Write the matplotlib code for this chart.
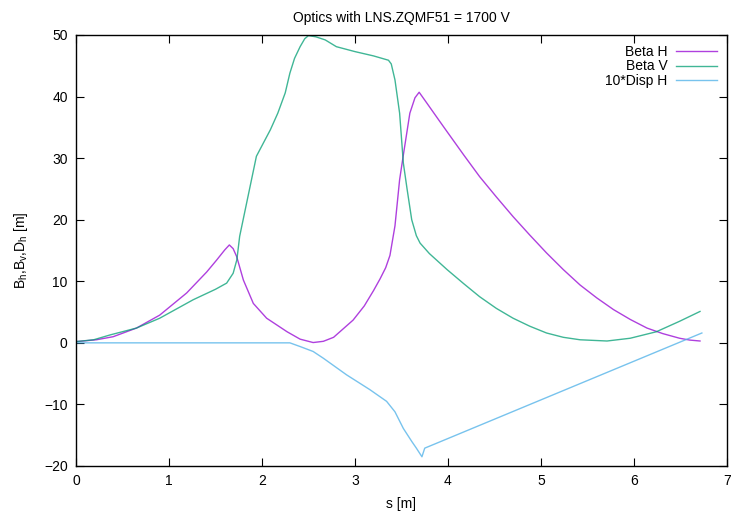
import numpy as np
import matplotlib
matplotlib.use('Agg')
import matplotlib.pyplot as plt

plt.rcParams['font.family'] = ['Liberation Sans', 'DejaVu Sans']

# Beta H  (s [m], value [m])
s_bh = [0.0, 0.22, 0.40, 0.65, 0.90, 1.19, 1.405, 1.51, 1.60, 1.649, 1.69,
        1.728, 1.80, 1.907, 2.05, 2.27, 2.41, 2.55, 2.66, 2.77, 2.98, 3.10,
        3.20, 3.27, 3.33, 3.376, 3.43, 3.48, 3.52, 3.59, 3.645, 3.69, 3.77,
        3.91, 3.99, 4.17, 4.34, 4.52, 4.70, 4.88, 5.06, 5.24, 5.42, 5.60,
        5.78, 5.96, 6.14, 6.31, 6.49, 6.60, 6.71]
beta_h = [0.2, 0.5, 1.0, 2.4, 4.5, 8.1, 11.5, 13.4, 15.1, 15.9, 15.3,
          14.0, 10.2, 6.4, 4.0, 1.8, 0.6, 0.05, 0.25, 0.9, 3.7, 6.0,
          8.5, 10.4, 12.2, 14.2, 19.0, 26.5, 30.5, 37.3, 39.8, 40.7, 39.0,
          36.0, 34.3, 30.5, 27.0, 23.7, 20.5, 17.5, 14.6, 11.9, 9.4, 7.3,
          5.4, 3.8, 2.4, 1.5, 0.75, 0.45, 0.3]

# Beta V
s_bv = [0.0, 0.19, 0.37, 0.65, 0.90, 1.26, 1.50, 1.62, 1.69, 1.73, 1.76,
        1.85, 1.94, 2.02, 2.09, 2.17, 2.25, 2.30, 2.35, 2.41, 2.46, 2.50,
        2.58, 2.68, 2.80, 3.00, 3.20, 3.36, 3.39, 3.43, 3.48, 3.52, 3.56,
        3.61, 3.66, 3.70, 3.80, 3.99, 4.17, 4.34, 4.52, 4.70, 4.88, 5.06,
        5.24, 5.42, 5.71, 5.96, 6.24, 6.49, 6.71]
beta_v = [0.2, 0.5, 1.3, 2.4, 4.0, 7.0, 8.7, 9.7, 11.3, 13.5, 17.3,
          23.8, 30.3, 32.6, 34.6, 37.3, 40.6, 43.8, 46.2, 48.1, 49.4, 49.9,
          49.7, 49.2, 48.1, 47.3, 46.6, 45.9, 45.3, 42.7, 37.3, 29.2, 25.0,
          20.0, 17.4, 16.2, 14.5, 11.9, 9.6, 7.5, 5.6, 4.0, 2.7, 1.6,
          0.9, 0.5, 0.3, 0.75, 1.8, 3.5, 5.1]

# 10*Disp H
s_dh = [0.0, 2.19, 2.30, 2.41, 2.55, 2.66, 2.91, 3.16, 3.34, 3.43, 3.52,
        3.61, 3.66, 3.72, 3.75, 3.91, 6.73]
disp_h = [0.0, 0.0, 0.0, -0.6, -1.4, -2.5, -5.2, -7.6, -9.5, -11.2, -13.9,
          -16.0, -17.1, -18.5, -17.1, -16.1, 1.6]

fig = plt.figure(figsize=(7.37, 5.16), dpi=100)
ax = fig.add_axes([0.1031, 0.0969, 0.8833, 0.8353])

ax.plot(s_bh, beta_h, color='#9400d3', lw=1.0, alpha=0.75, label='Beta H')
ax.plot(s_bv, beta_v, color='#009e73', lw=1.0, alpha=0.75, label='Beta V')
ax.plot(s_dh, disp_h, color='#56b4e9', lw=1.0, alpha=0.8, label='10*Disp H')

ax.set_xlim(0, 7)
ax.set_ylim(-20, 50)
ax.set_xticks(range(0, 8))
ax.set_yticks(range(-20, 51, 10))
ax.tick_params(direction='in', top=True, right=True, length=6, width=0.8,
               labelsize=10, pad=6)
for sp in ax.spines.values():
    sp.set_linewidth(1.0)

ax.set_title('Optics with LNS.ZQMF51 = 1700 V', fontsize=10, pad=9)
ax.set_xlabel('s [m]', fontsize=10, labelpad=6)
ax.set_ylabel(r'B$_\mathregular{h}$,B$_\mathregular{v}$,D$_\mathregular{h}$ [m]',
              fontsize=10, labelpad=10)

ax.legend(loc='upper right', frameon=False, markerfirst=False, fontsize=10,
          handlelength=3.0, labelspacing=0.05, borderaxespad=0.3,
          handletextpad=0.6)

fig.savefig('out.png', dpi=100)
